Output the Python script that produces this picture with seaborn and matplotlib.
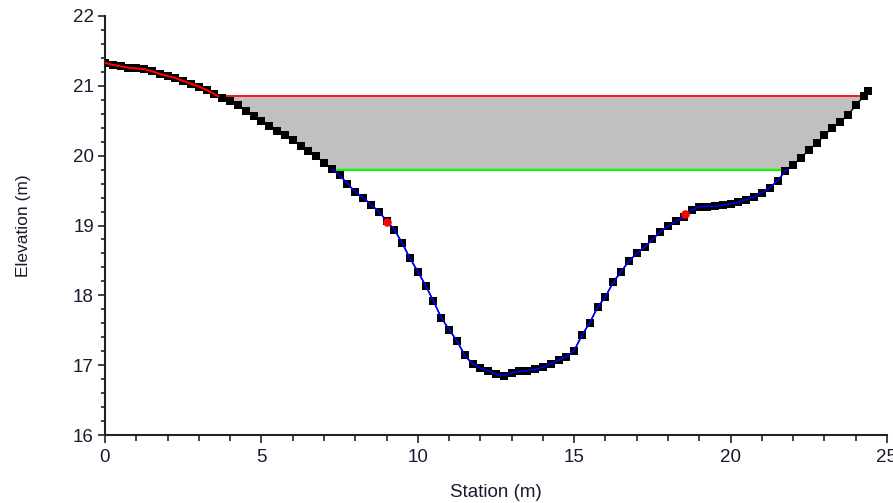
import numpy as np
import pandas as pd
import matplotlib
matplotlib.use('Agg')
import matplotlib.pyplot as plt
import seaborn as sns
from matplotlib.ticker import MultipleLocator

# ground profile
station = [0.00, 0.25, 0.50, 0.75, 1.00, 1.25, 1.50, 1.75, 2.00, 2.25,
           2.50, 2.75, 3.00, 3.25, 3.50, 3.75, 4.00, 4.25, 4.50, 4.75,
           5.00, 5.25, 5.50, 5.75, 6.00, 6.25, 6.50, 6.75, 7.00, 7.25,
           7.50, 7.75, 8.00, 8.25, 8.50, 8.75, 9.00, 9.25, 9.50, 9.75,
           10.00, 10.25, 10.50, 10.75, 11.00, 11.25, 11.50, 11.75, 12.00, 12.25,
           12.50, 12.75, 13.00, 13.25, 13.50, 13.75, 14.00, 14.25, 14.50, 14.75,
           15.00, 15.25, 15.50, 15.75, 16.00, 16.25, 16.50, 16.75, 17.00, 17.25,
           17.50, 17.75, 18.00, 18.25, 18.50, 18.75, 19.00, 19.25, 19.50, 19.75,
           20.00, 20.25, 20.50, 20.75, 21.00, 21.25, 21.50, 21.75, 22.00, 22.25,
           22.50, 22.75, 23.00, 23.25, 23.50, 23.75, 24.00, 24.25, 24.40]
elevation = [21.33, 21.30, 21.28, 21.26, 21.25, 21.24, 21.21, 21.17, 21.14, 21.11,
             21.07, 21.03, 20.99, 20.94, 20.88, 20.82, 20.78, 20.72, 20.64, 20.57,
             20.49, 20.42, 20.36, 20.29, 20.22, 20.14, 20.07, 19.99, 19.90, 19.81,
             19.72, 19.60, 19.48, 19.40, 19.30, 19.20, 19.07, 18.94, 18.75, 18.53,
             18.34, 18.14, 17.92, 17.68, 17.51, 17.35, 17.14, 17.02, 16.96, 16.92,
             16.87, 16.85, 16.89, 16.91, 16.92, 16.94, 16.97, 17.02, 17.07, 17.12,
             17.21, 17.43, 17.61, 17.83, 17.98, 18.19, 18.34, 18.49, 18.60, 18.69,
             18.80, 18.91, 18.99, 19.06, 19.12, 19.22, 19.27, 19.27, 19.28, 19.29,
             19.31, 19.33, 19.37, 19.41, 19.47, 19.54, 19.64, 19.78, 19.87, 19.97,
             20.08, 20.18, 20.29, 20.40, 20.48, 20.58, 20.72, 20.85, 20.93]

ws_elev = 20.85      # red water surface
crit_elev = 19.80    # green line
bank_station = [9.0, 18.55]
bank_elev = [19.05, 19.17]

df = pd.DataFrame({'station': station, 'elevation': elevation})
x = df.station.values
z = df.elevation.values


def crossings(level):
    # stations where the ground profile crosses a level
    out = []
    for i in range(len(x) - 1):
        a, b = z[i] - level, z[i + 1] - level
        if a == 0:
            out.append(x[i])
        elif a * b < 0:
            out.append(x[i] + (x[i + 1] - x[i]) * a / (a - b))
    return out[0], out[-1]


ws_l, ws_r = crossings(ws_elev)
cr_l, cr_r = crossings(crit_elev)

sns.set_style('ticks')
plt.rcParams['font.family'] = ['Liberation Sans', 'DejaVu Sans']

fig = plt.figure(figsize=(8.93, 5.03), dpi=100)
ax = fig.add_axes([105 / 893, 1 - 435 / 503, 782 / 893, 419 / 503])

# grey band between water surface and green line / ground
bottom = np.maximum(z, crit_elev)
ax.fill_between(x, ws_elev, bottom, where=z <= ws_elev, interpolate=True,
                color='#c0c0c0', linewidth=0, zorder=1)

# ground with point markers
sns.lineplot(data=df, x='station', y='elevation', color='black', marker='s',
             markersize=5.8, markeredgewidth=0, linewidth=1, sort=False,
             ax=ax, zorder=3)

# red part of ground (left of the water edge)
left = df[df.station <= ws_l]
lx = np.append(left.station.values, ws_l)
lz = np.append(left.elevation.values, ws_elev)
sns.lineplot(x=lx, y=lz, color='red', linewidth=1.5, sort=False, ax=ax, zorder=4)

# blue part of ground under the green line
mid = df[(df.station > cr_l) & (df.station < cr_r)]
mx = np.concatenate([[cr_l], mid.station.values, [cr_r]])
mz = np.concatenate([[crit_elev], mid.elevation.values, [crit_elev]])
sns.lineplot(x=mx, y=mz, color='blue', linewidth=1.1, sort=False, ax=ax, zorder=4)

ax.hlines(ws_elev, ws_l, ws_r, color='red', linewidth=1.3, zorder=2)
ax.hlines(crit_elev, cr_l, cr_r, color='#00ff00', linewidth=1.6, zorder=2)

sns.scatterplot(x=bank_station, y=bank_elev, color='red', marker='o', s=38,
                linewidth=0, ax=ax, zorder=5)

ax.set_xlim(0, 25)
ax.set_ylim(16, 22)
ax.xaxis.set_major_locator(MultipleLocator(5))
ax.xaxis.set_minor_locator(MultipleLocator(1))
ax.yaxis.set_major_locator(MultipleLocator(1))
ax.yaxis.set_minor_locator(MultipleLocator(0.2))
ax.tick_params(which='major', direction='out', length=5, width=1.2,
               labelsize=13.5, pad=3, color='#222222', labelcolor='#1a1a2e')
ax.tick_params(which='minor', direction='out', length=3.2, width=1.2, color='#222222')
ax.tick_params(axis='x', which='major', length=6, pad=4)
ax.tick_params(axis='x', which='minor', length=4)
sns.despine(ax=ax)
for s in ['left', 'bottom']:
    ax.spines[s].set_linewidth(1.5)
    ax.spines[s].set_color('#222222')

ax.set_xlabel('Station (m)', fontsize=13.5, labelpad=13, color='#1a1a2e')
ax.set_ylabel('Elevation (m)', fontsize=12.5, labelpad=30, color='#1a1a2e')

fig.savefig('out.png', dpi=100)
